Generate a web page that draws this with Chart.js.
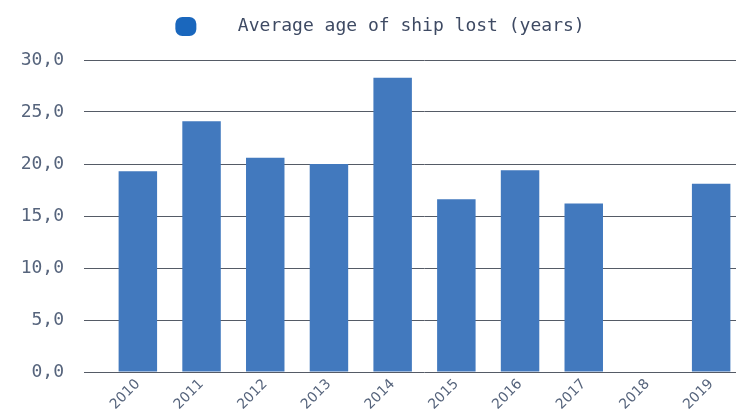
<!DOCTYPE html>
<html>
<head>
<meta charset="utf-8">
<script src="https://cdn.jsdelivr.net/npm/chart.js@4/dist/chart.umd.min.js"></script>
<style>
html, body { margin: 0; padding: 0; overflow: hidden; background: #ffffff; }
#wrap { position: absolute; left: 0; top: 0; width: 760px; height: 412px; }
</style>
</head>
<body>
<div id="wrap"><canvas id="c"></canvas></div>
<script>
const categories = ['2010', '2011', '2012', '2013', '2014', '2015', '2016', '2017', '2018', '2019'];
const averageAge = [19.3, 24.1, 20.6, 20.0, 28.3, 16.6, 19.4, 16.2, 0, 18.1];
const seriesLabel = 'Average age of ship lost (years)';
const yTicks = [0, 5, 10, 15, 20, 25, 30];

const monoFont = "'DejaVu Sans Mono', 'Liberation Mono', monospace";
const textColor = '#56647c';
const legendTextColor = '#3e4a63';
const gridColor = '#555b66';
const barColor = '#4279be';
const legendColor = '#1a67bd';

const legendMargin = {
  id: 'legendMargin',
  beforeInit(chart) {
    const fit = chart.legend.fit;
    chart.legend.fit = function () {
      fit.bind(chart.legend)();
      this.height += 14;
    };
  }
};

new Chart(document.getElementById('c'), {
  type: 'bar',
  data: {
    labels: categories,
    datasets: [{
      label: seriesLabel,
      data: averageAge,
      backgroundColor: barColor,
      borderWidth: 0,
      categoryPercentage: 0.8,
      barPercentage: 0.755
    }]
  },
  options: {
    responsive: true,
    maintainAspectRatio: false,
    animation: false,
    layout: { padding: { top: 7, right: 17, left: 17, bottom: 0 } },
    plugins: {
      tooltip: { enabled: false },
      legend: {
        display: true,
        position: 'top',
        labels: {
          boxWidth: 21,
          boxHeight: 19,
          padding: 10,
          color: legendTextColor,
          font: { family: monoFont, size: 18 },
          useBorderRadius: true,
          borderRadius: 7,
          generateLabels(chart) {
            return chart.data.datasets.map((ds, i) => ({
              text: '   ' + ds.label,
              fillStyle: legendColor,
              strokeStyle: legendColor,
              lineWidth: 0,
              borderRadius: 7,
              hidden: false,
              datasetIndex: i,
              fontColor: legendTextColor
            }));
          }
        }
      }
    },
    scales: {
      x: {
        grid: { display: false, drawTicks: false },
        border: { display: false },
        afterFit(scale) { scale.height = 40; },
        ticks: {
          color: textColor,
          font: { family: "'DejaVu Sans', sans-serif", size: 14 },
          minRotation: 45,
          maxRotation: 45,
          padding: 4
        }
      },
      y: {
        min: 0,
        max: 30,
        afterFit(scale) { scale.width = 89; },
        afterBuildTicks(scale) { scale.ticks = yTicks.map(v => ({ value: v })); },
        border: { display: false },
        grid: { color: gridColor, lineWidth: 1, tickLength: 22, drawTicks: true },
        ticks: {
          color: textColor,
          padding: 20,
          font: { family: monoFont, size: 18 },
          callback: (v) => Number(v).toFixed(1).replace('.', ',')
        }
      }
    }
  },
  plugins: [legendMargin]
});
</script>
</body>
</html>
